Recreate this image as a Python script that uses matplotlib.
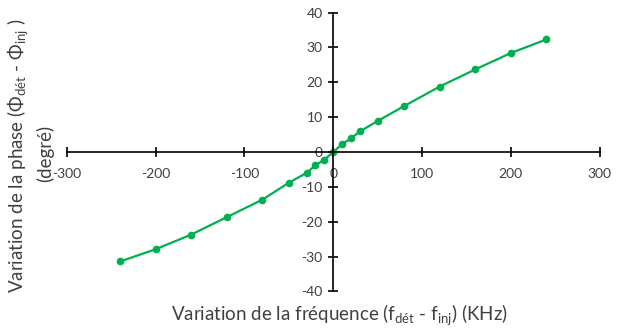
import matplotlib.pyplot as plt

plt.rcParams['font.family'] = ['Lato', 'DejaVu Sans']
plt.rcParams['mathtext.fontset'] = 'custom'
plt.rcParams['mathtext.rm'] = 'Lato'
plt.rcParams['mathtext.it'] = 'Lato'
plt.rcParams['axes.unicode_minus'] = False

# Frequency offset (KHz) and phase shift (degrees)
freq = [-240, -200, -160, -120, -80, -50, -30, -20, -10, 0,
        10, 20, 30, 50, 80, 120, 160, 200, 240]
phase = [-31.4, -27.9, -23.7, -18.7, -13.7, -8.8, -6.0, -3.8, -2.2, 0.0,
         2.3, 3.9, 5.9, 8.9, 13.2, 18.8, 23.7, 28.4, 32.3]

xticks = [-300, -200, -100, 0, 100, 200, 300]
yticks = [-40, -30, -20, -10, 0, 10, 20, 30, 40]

fig = plt.figure(figsize=(6.2, 3.33), dpi=100)
ax = fig.add_axes([0.108, 0.125, 0.859, 0.837])

ax.plot(freq, phase, color='#00B050', lw=1.6, marker='o', ms=4.5)

ax.set_xlim(-300, 300)
ax.set_ylim(-40, 40)
ax.set_xticks(xticks)
ax.set_yticks(yticks)

# axes cross at the origin, Excel style
ax.spines['left'].set_position(('data', 0))
ax.spines['bottom'].set_position(('data', 0))
ax.spines['right'].set_visible(False)
ax.spines['top'].set_visible(False)
for s in ['left', 'bottom']:
    ax.spines[s].set_linewidth(1.2)
ax.tick_params(direction='inout', length=7.5, width=1.2, labelsize=10, colors='black')
ax.tick_params(axis='x', pad=8)
ax.tick_params(axis='y', pad=4)
for lab in ax.get_xticklabels() + ax.get_yticklabels():
    lab.set_color('#404040')

fig.text(0.547, 0.054, r'Variation de la fréquence (f$_{\mathrm{dét}}$ - f$_{\mathrm{inj}}$) (KHz)',
         ha='center', va='center', fontsize=13.5, color='#404040')
fig.text(0.029, 0.532, r'Variation de la phase (Φ$_{\mathrm{dét}}$ - Φ$_{\mathrm{inj}}$ )',
         ha='center', va='center', rotation=90, fontsize=13.5, color='#404040')
fig.text(0.073, 0.54, '(degré)', ha='center', va='center', rotation=90,
         fontsize=13.5, color='#404040')

fig.savefig('out.png', dpi=100)
